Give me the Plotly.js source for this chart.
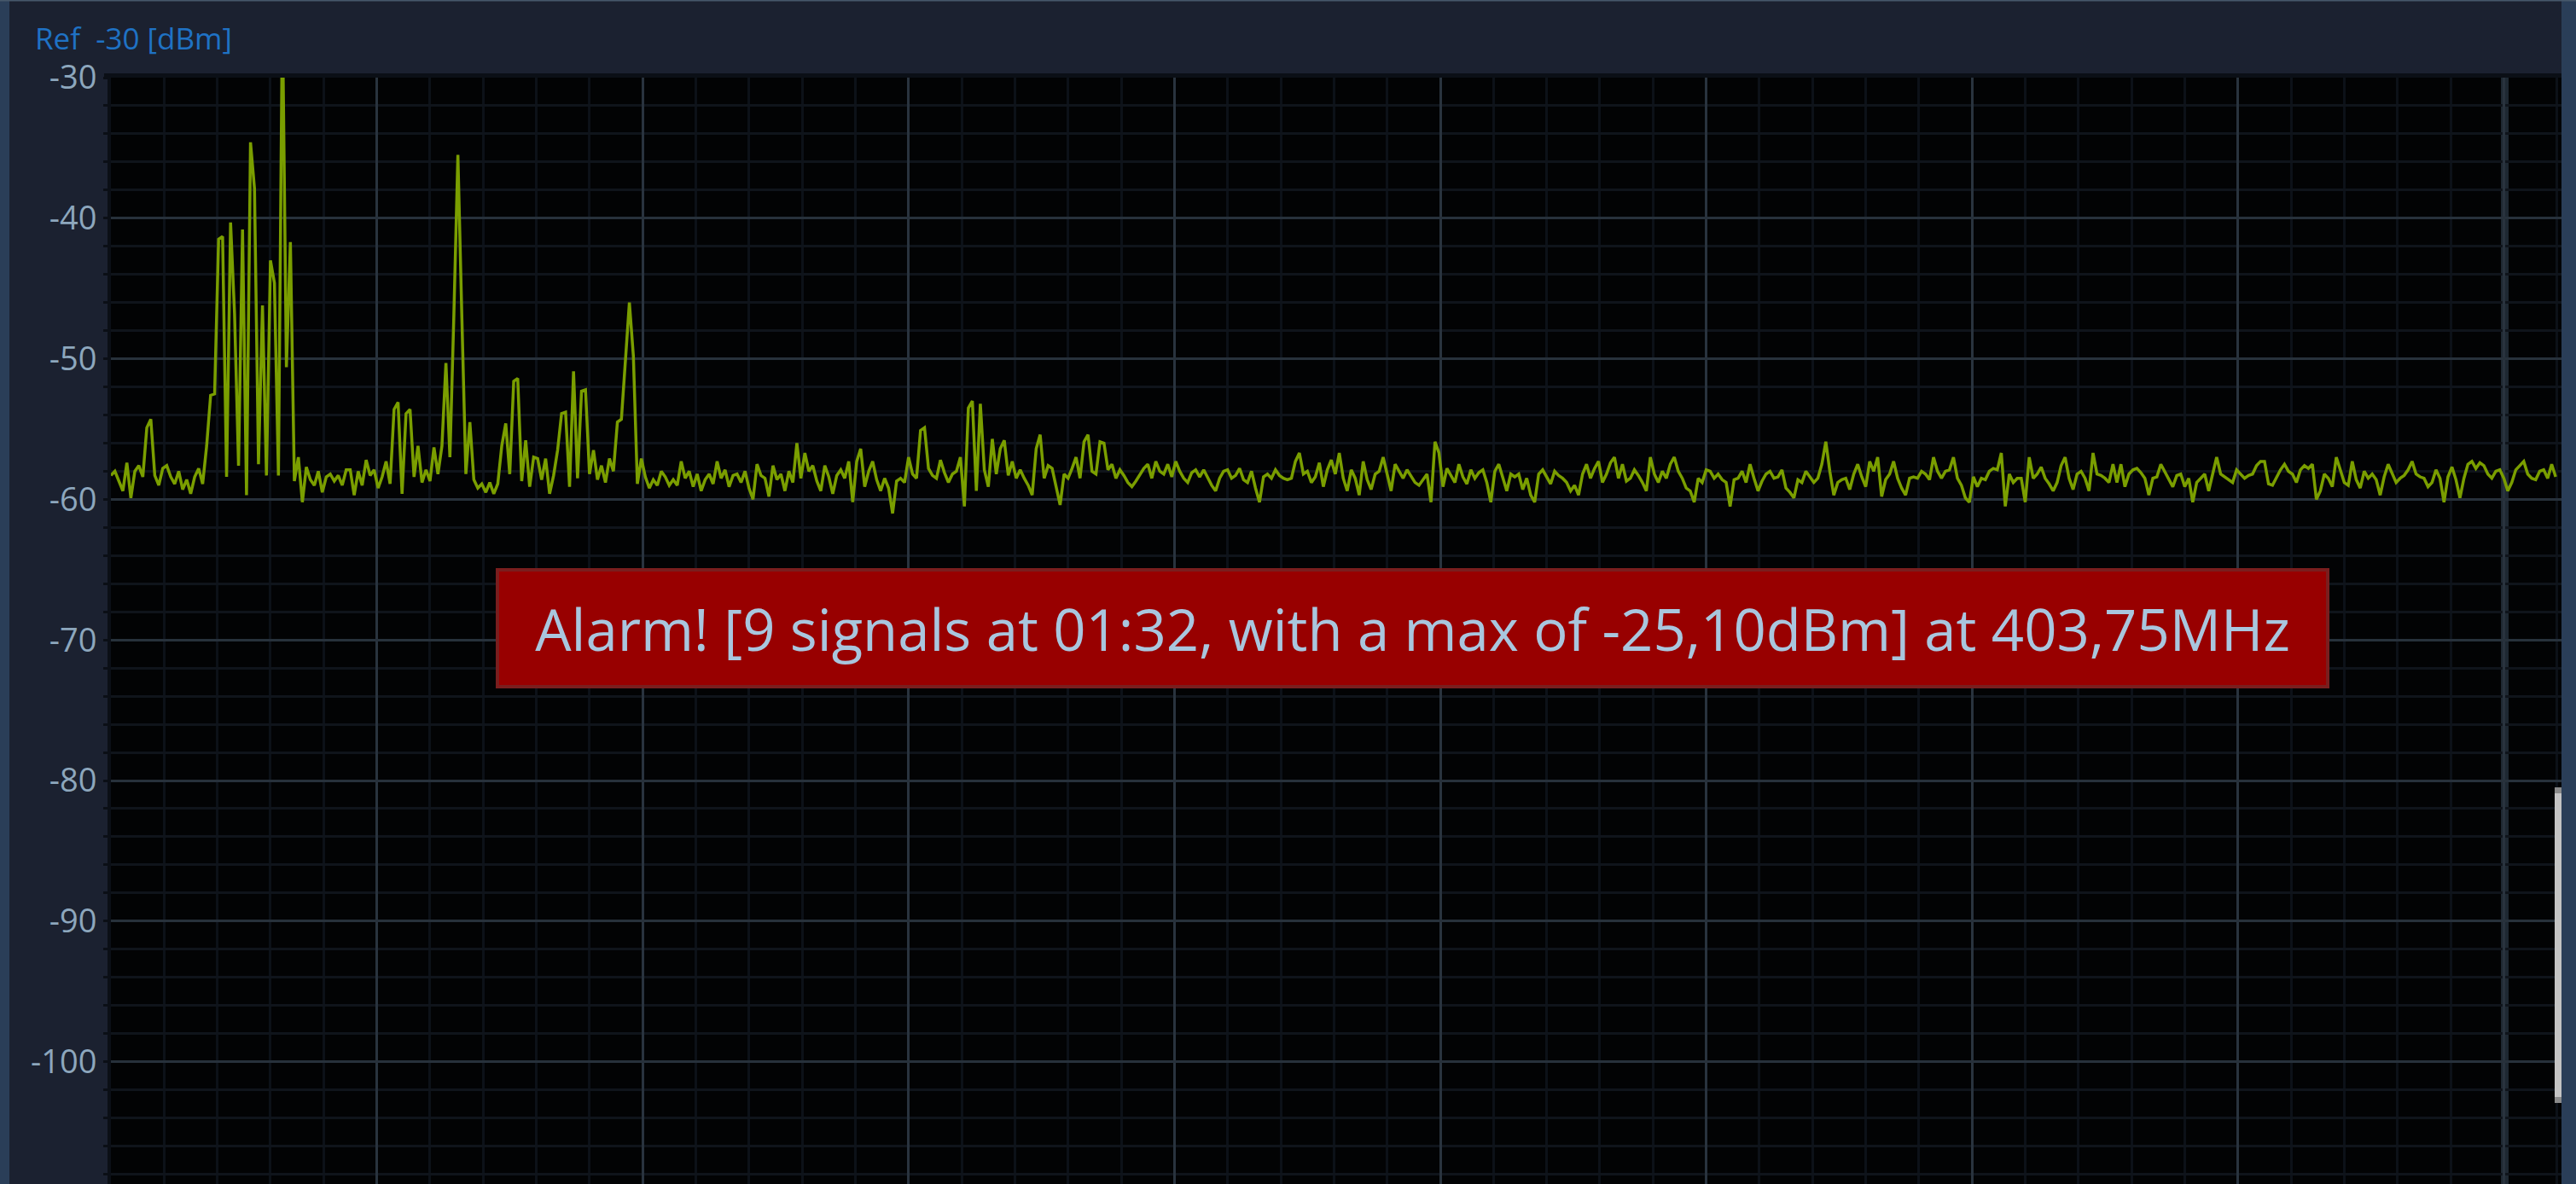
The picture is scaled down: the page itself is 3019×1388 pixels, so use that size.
<!DOCTYPE html>
<html>
<head>
<meta charset="utf-8">
<script src="https://cdn.plot.ly/plotly-3.0.1.min.js"></script>
<style>
html,body{margin:0;padding:0;background:#1b2130;overflow:hidden}
#chart{width:3019px;height:1388px}
</style>
</head>
<body>
<div id="chart"></div>
<script>
// ---- data ----
const levelsDbm = [
-58.3,-58.0,-58.7,-59.4,-57.4,-59.9,-58.0,-57.6,-58.4,-54.9,-54.3,-58.3,-59.0,-57.8,-57.6,-58.4,-58.9,-58.0,-59.3,-58.6,
-59.6,-58.4,-57.8,-58.9,-56.2,-52.6,-52.5,-41.5,-41.3,-58.4,-40.3,-46.8,-57.6,-40.8,-59.7,-34.6,-37.9,-57.5,-46.2,-58.3,
-43.0,-44.6,-58.3,-25.1,-50.6,-41.7,-58.7,-57.0,-60.2,-57.7,-58.6,-59.0,-58.0,-59.5,-58.4,-58.2,-58.7,-58.3,-59.0,-57.9,
-57.9,-59.7,-58.0,-59.0,-57.2,-58.3,-57.9,-59.2,-58.4,-57.3,-58.9,-53.6,-53.1,-59.6,-53.9,-53.6,-58.4,-56.2,-58.8,-57.9,
-58.7,-56.3,-58.2,-56.2,-50.3,-57.0,-46.8,-35.5,-47.1,-58.2,-54.5,-58.6,-59.2,-58.9,-59.5,-58.8,-59.6,-58.9,-56.2,-54.6,
-58.2,-51.6,-51.4,-58.7,-55.8,-59.1,-57.0,-57.1,-58.6,-57.1,-59.6,-58.3,-56.5,-53.9,-53.8,-59.1,-50.9,-58.5,-52.3,-52.2,
-58.2,-56.5,-58.6,-57.6,-58.8,-57.1,-58.0,-54.5,-54.3,-50.3,-46.0,-49.8,-58.9,-57.1,-58.4,-59.2,-58.6,-59.0,-58.0,-58.4,
-59.0,-58.6,-59.0,-57.3,-58.5,-58.0,-59.1,-58.2,-59.4,-58.6,-58.2,-58.9,-57.3,-58.5,-57.9,-59.1,-58.3,-58.2,-58.8,-58.0,
-59.2,-60.0,-57.5,-58.3,-58.5,-59.8,-57.6,-58.6,-58.2,-59.4,-58.0,-58.8,-56.0,-58.5,-56.7,-58.0,-57.6,-58.7,-59.4,-57.6,
-58.4,-59.6,-58.3,-57.9,-58.5,-57.3,-60.2,-57.3,-56.4,-59.1,-58.0,-57.3,-58.6,-59.4,-58.5,-59.2,-61.0,-58.7,-58.5,-58.8,
-57.0,-58.2,-58.5,-55.1,-54.9,-57.8,-58.3,-58.5,-57.2,-58.1,-58.8,-58.2,-58.0,-57.0,-60.5,-53.5,-53.0,-59.4,-53.2,-57.9,
-59.1,-55.7,-58.2,-56.4,-55.8,-58.3,-57.3,-58.5,-57.9,-58.5,-59.0,-59.7,-56.4,-55.4,-58.5,-57.6,-57.8,-59.1,-60.4,-58.2,
-58.5,-57.8,-57.0,-58.5,-55.9,-55.4,-58.0,-58.2,-55.9,-56.0,-57.9,-57.5,-58.5,-57.9,-58.3,-58.8,-59.1,-58.7,-58.2,-57.8,
-57.5,-58.5,-57.3,-58.0,-58.2,-57.5,-58.4,-57.3,-58.0,-58.5,-58.8,-58.1,-57.9,-58.4,-57.9,-58.5,-59.0,-59.4,-58.5,-58.0,
-57.9,-58.5,-58.3,-57.8,-58.6,-58.8,-58.0,-59.2,-60.2,-58.4,-58.2,-58.5,-57.9,-58.3,-58.5,-58.6,-58.5,-57.3,-56.7,-58.2,
-58.0,-58.8,-58.4,-57.4,-59.1,-57.9,-57.2,-58.2,-56.7,-58.5,-59.4,-57.9,-58.5,-59.7,-57.3,-58.6,-59.3,-58.2,-58.0,-57.0,
-58.2,-59.4,-57.5,-58.0,-58.5,-57.9,-58.4,-58.8,-59.0,-58.6,-58.2,-60.2,-55.9,-56.7,-59.1,-57.8,-58.3,-58.8,-57.5,-58.4,
-58.9,-57.9,-58.5,-58.1,-57.9,-58.8,-60.2,-58.0,-57.5,-58.5,-59.4,-58.2,-58.4,-58.2,-59.3,-58.5,-59.7,-60.2,-58.2,-57.9,
-58.4,-58.9,-58.0,-58.3,-58.5,-58.8,-59.4,-59.0,-59.7,-58.2,-57.5,-58.5,-57.8,-57.3,-58.8,-58.2,-57.4,-57.0,-58.5,-57.5,
-58.7,-58.5,-57.9,-58.3,-58.8,-59.4,-57.0,-58.2,-58.8,-58.0,-58.5,-57.5,-57.0,-58.0,-58.5,-59.2,-59.4,-60.2,-58.5,-58.8,
-57.9,-58.0,-58.5,-58.2,-58.6,-58.8,-60.5,-58.6,-58.5,-58.0,-58.8,-57.5,-58.5,-59.4,-58.7,-58.2,-58.0,-58.5,-58.4,-57.9,
-59.2,-59.5,-59.9,-58.6,-58.8,-58.0,-58.4,-58.8,-58.5,-57.5,-55.9,-58.0,-59.7,-58.8,-58.6,-58.5,-59.3,-58.2,-57.5,-58.4,
-59.1,-57.3,-58.0,-57.0,-59.8,-58.6,-58.2,-57.3,-58.5,-59.2,-59.7,-58.5,-58.4,-58.5,-58.0,-58.2,-58.6,-57.0,-58.0,-58.5,
-58.0,-57.9,-57.0,-58.5,-59.0,-59.9,-60.2,-58.4,-59.1,-58.5,-58.6,-58.0,-57.8,-57.9,-56.7,-60.5,-58.2,-58.8,-58.5,-58.5,
-60.2,-57.0,-58.5,-58.2,-57.7,-58.5,-58.9,-59.4,-58.8,-57.6,-57.0,-58.5,-59.3,-58.2,-58.0,-58.5,-59.4,-56.7,-58.2,-58.3,
-58.5,-58.8,-57.5,-58.8,-57.5,-59.1,-58.2,-57.9,-57.8,-58.1,-58.5,-59.7,-58.5,-58.4,-57.5,-58.0,-58.5,-59.1,-58.3,-58.2,
-59.1,-58.5,-60.2,-58.8,-58.5,-58.2,-59.4,-58.2,-57.0,-58.2,-58.4,-58.6,-58.8,-57.9,-58.2,-58.5,-58.3,-58.2,-57.6,-57.3,
-57.3,-58.9,-59.0,-58.4,-57.9,-57.5,-58.0,-58.2,-58.8,-57.9,-57.6,-57.8,-57.5,-60.0,-59.4,-58.2,-58.5,-59.1,-57.0,-57.9,
-58.8,-59.0,-57.3,-58.6,-59.2,-58.0,-58.5,-58.2,-58.6,-59.7,-58.4,-57.5,-58.2,-58.8,-58.5,-58.3,-57.9,-57.3,-58.2,-58.4,
-58.5,-59.1,-58.8,-57.9,-58.5,-60.2,-58.4,-57.7,-58.6,-59.9,-58.5,-57.5,-57.3,-57.8,-57.4,-57.6,-58.2,-58.5,-58.0,-57.9,
-58.5,-59.4,-58.8,-57.9,-57.6,-57.3,-58.2,-58.5,-58.6,-58.0,-57.9,-58.5,-57.5,-58.4
];
const freqStartMHz = 403.10;
const freqStepMHz = 0.015;
const yTickVals = [-30, -40, -50, -60, -70, -80, -90, -100, -110];
const yTickText = ['-30', '-40', '-50', '-60', '-70', '-80', '-90', '-100', '-110'];
const refLabel = 'Ref\u00a0\u00a0-30 [dBm]';
const alarmText = 'Alarm! [9 signals at 01:32, with a max of -25,10dBm] at 403,75MHz';

// ---- geometry ----
const W = 3019, H = 1388;
const L = 130, T = 91, R = 3002;
const PW = R - L, PH = H - T;
const pxPerMHz = 311.6;
const xMin = freqStartMHz, xMax = freqStartMHz + PW / pxPerMHz;
const yMax = -30, yMin = -30 - PH / 16.48;
const px = x => (x - L) / PW;
const py = y => 1 - (y - T) / PH;

const freqs = levelsDbm.map((_, i) => +(freqStartMHz + i * freqStepMHz).toFixed(4));

function rect(x0, y0, x1, y1, color, layer) {
  return {type: 'rect', xref: 'paper', yref: 'paper',
    x0: px(x0), x1: px(x1), y0: py(y1), y1: py(y0),
    fillcolor: color, line: {width: 0}, layer: layer || 'above'};
}

const shapes = [
  rect(0, 0, 11, H, '#2a3e58', 'below'),
  rect(R, 1, W, H, '#2a3e58', 'below'),
  rect(0, 0, W, 1.5, '#46586b', 'below'),
  rect(122, 86, R, T, '#0b0f16', 'below'),
  rect(126, 86, L, H, '#0b0f16', 'below'),
  rect(2931, T, 2940, H, '#1e2832', 'between'),
  rect(2994, 923, R, 1293, '#c4c4c4', 'above'),
  rect(2994, 923, R, 930, '#8a8a8a', 'above'),
  rect(2994, 1286, R, 1293, '#8a8a8a', 'above')
];

const trace = {
  x: freqs, y: levelsDbm, type: 'scatter', mode: 'lines',
  line: {color: '#7a9e00', width: 3.5},
  hoverinfo: 'skip', showlegend: false
};

const layout = {
  width: W, height: H,
  margin: {l: L, r: W - R, t: T, b: 0, pad: 0},
  paper_bgcolor: '#1b2130',
  plot_bgcolor: '#020304',
  showlegend: false,
  font: {family: 'Open Sans, sans-serif', color: '#8da7bd'},
  xaxis: {
    range: [xMin, xMax], autorange: false, automargin: false,
    tickmode: 'linear', tick0: freqStartMHz, dtick: 1,
    showticklabels: false, ticks: '', zeroline: false, showline: false,
    showgrid: true, gridcolor: '#29333e', gridwidth: 3,
    minor: {dtick: 0.2, tick0: freqStartMHz, showgrid: true, gridcolor: '#0c1118', gridwidth: 3, ticks: ''}
  },
  yaxis: {
    range: [yMin, yMax], autorange: false, automargin: false,
    tickmode: 'array', tickvals: yTickVals, ticktext: yTickText,
    ticks: 'outside', ticklen: 8, tickwidth: 3, tickcolor: '#0b0f16',
    tickfont: {family: 'Open Sans, sans-serif', size: 38, color: '#8da7bd'},
    zeroline: false, showline: false,
    showgrid: true, gridcolor: '#27313b', gridwidth: 3,
    minor: {dtick: 2, tick0: -30, showgrid: true, gridcolor: '#0f141b', gridwidth: 3,
            ticks: 'outside', ticklen: 8, tickwidth: 3, tickcolor: '#0b0f16'}
  },
  shapes: shapes,
  annotations: [
    {text: refLabel, xref: 'paper', yref: 'paper', x: px(40), y: py(45),
     xanchor: 'left', yanchor: 'middle', showarrow: false, borderpad: 0,
     font: {family: 'Open Sans, sans-serif', size: 35, color: '#1f72c4'}},
    {text: alarmText, xref: 'paper', yref: 'paper', x: px(1655.5), y: py(736.5),
     xanchor: 'center', yanchor: 'middle', showarrow: false,
     width: 2141, height: 133, align: 'center', valign: 'middle',
     bgcolor: '#980000', bordercolor: '#7a1e1e', borderwidth: 4, borderpad: 0,
     font: {family: 'Open Sans, sans-serif', size: 67, color: '#a9c6de'}}
  ]
};

Plotly.newPlot('chart', [trace], layout, {staticPlot: true, displayModeBar: false});
</script>
</body>
</html>
